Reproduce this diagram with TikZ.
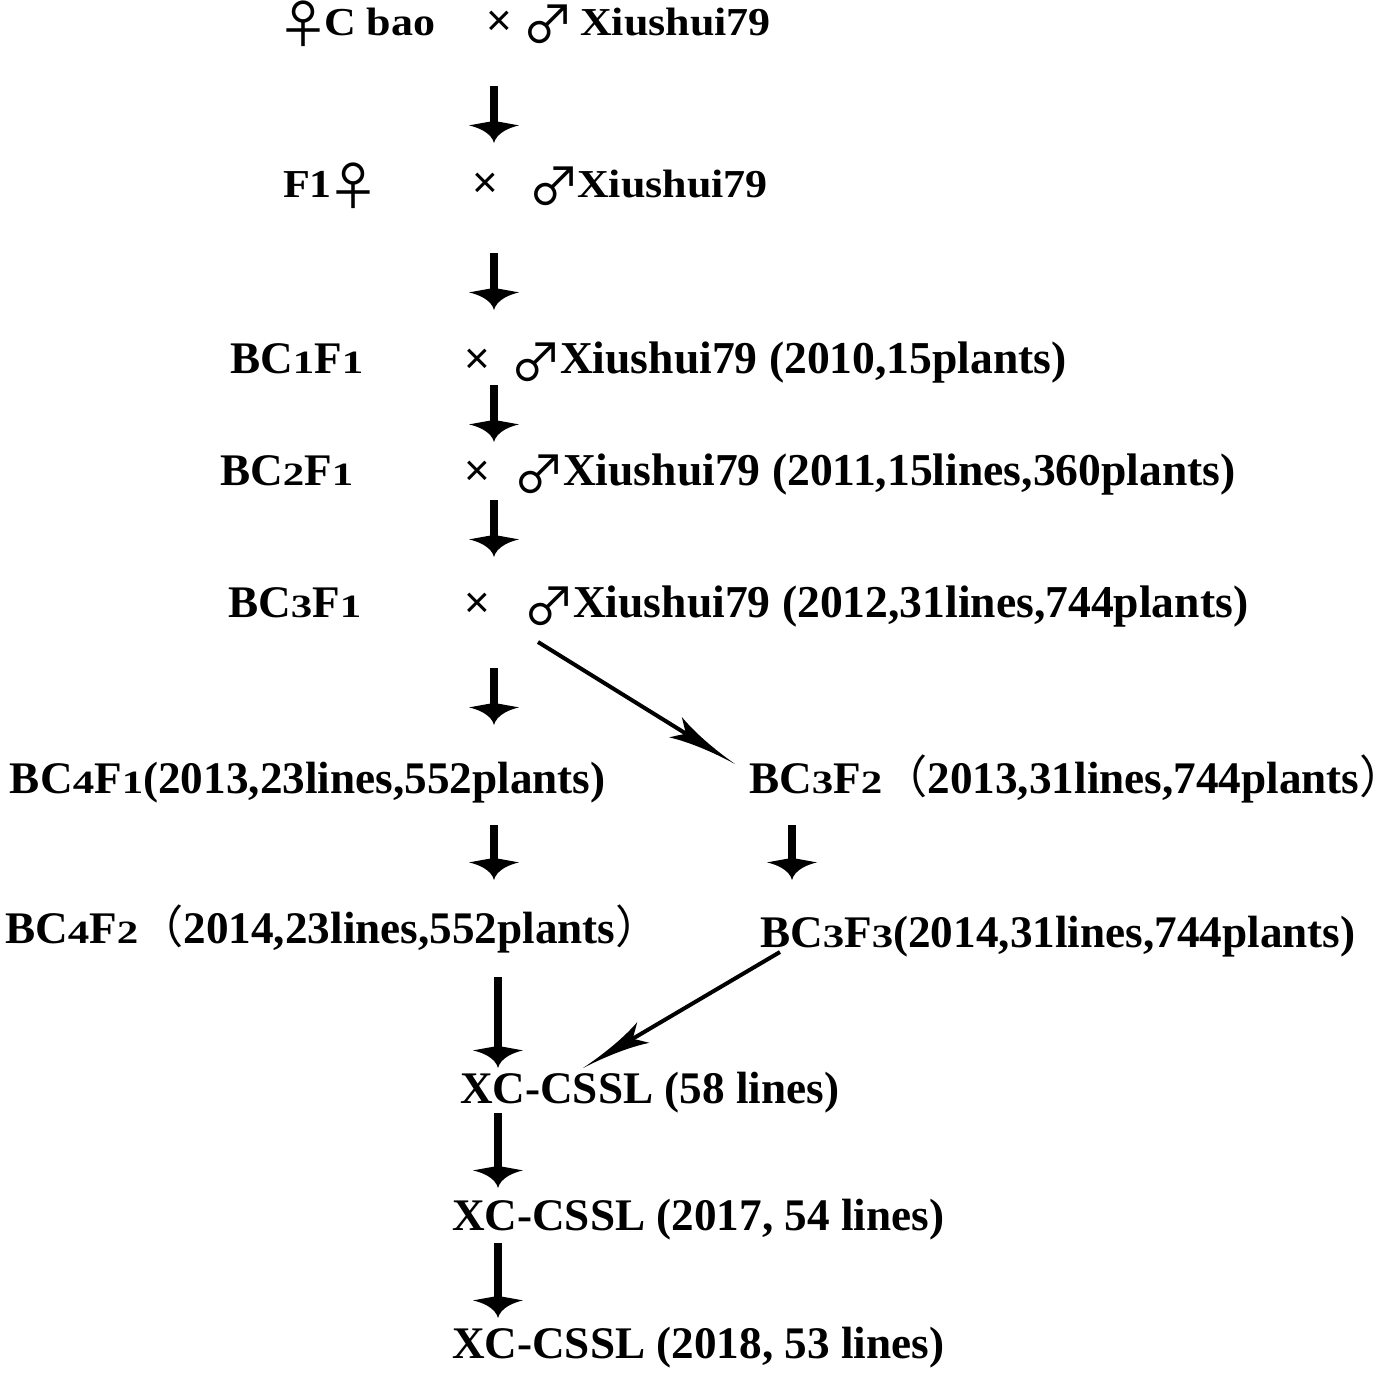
\documentclass[tikz,border=0pt]{standalone}
\usepackage{fontspec}
\setmainfont{Liberation Serif}
\newfontfamily\cjk{Noto Sans CJK SC}
\newfontfamily\sansx{Liberation Sans}
\usetikzlibrary{arrows.meta}

\pgfdeclarearrow{
  name = VDart,
  parameters = {\the\pgfarrowlength,\the\pgfarrowwidth},
  setup code = {
    \pgfarrowssettipend{0pt}
    \pgfarrowssetbackend{-\pgfarrowlength}
    \pgfarrowssetlineend{-0.85\pgfarrowlength}
    \pgfarrowssavethe\pgfarrowlength
    \pgfarrowssavethe\pgfarrowwidth
  },
  drawing code = {
    \pgfpathmoveto{\pgfqpoint{0pt}{0pt}}
    \pgfpathcurveto{\pgfqpoint{-0.45\pgfarrowlength}{0.05\pgfarrowwidth}}{\pgfqpoint{-0.7\pgfarrowlength}{0.3\pgfarrowwidth}}{\pgfqpoint{-0.8\pgfarrowlength}{0.5\pgfarrowwidth}}
    \pgfpathcurveto{\pgfqpoint{-0.88\pgfarrowlength}{0.3\pgfarrowwidth}}{\pgfqpoint{-0.96\pgfarrowlength}{0.12\pgfarrowwidth}}{\pgfqpoint{-\pgfarrowlength}{0pt}}
    \pgfpathcurveto{\pgfqpoint{-0.96\pgfarrowlength}{-0.12\pgfarrowwidth}}{\pgfqpoint{-0.88\pgfarrowlength}{-0.3\pgfarrowwidth}}{\pgfqpoint{-0.8\pgfarrowlength}{-0.5\pgfarrowwidth}}
    \pgfpathcurveto{\pgfqpoint{-0.7\pgfarrowlength}{-0.3\pgfarrowwidth}}{\pgfqpoint{-0.45\pgfarrowlength}{-0.05\pgfarrowwidth}}{\pgfqpoint{0pt}{0pt}}
    \pgfpathclose
    \pgfusepathqfill
  },
  defaults = {length = 11pt, width = 25pt}
}

\pgfdeclarearrow{
  name = DDart,
  parameters = {\the\pgfarrowlength,\the\pgfarrowwidth},
  setup code = {
    \pgfarrowssettipend{0pt}
    \pgfarrowssetbackend{-\pgfarrowlength}
    \pgfarrowssetlineend{-0.78\pgfarrowlength}
    \pgfarrowssavethe\pgfarrowlength
    \pgfarrowssavethe\pgfarrowwidth
  },
  drawing code = {
    \pgfpathmoveto{\pgfqpoint{0pt}{0pt}}
    \pgfpathcurveto{\pgfqpoint{-0.4\pgfarrowlength}{0.07\pgfarrowwidth}}{\pgfqpoint{-0.75\pgfarrowlength}{0.25\pgfarrowwidth}}{\pgfqpoint{-\pgfarrowlength}{0.5\pgfarrowwidth}}
    \pgfpathcurveto{\pgfqpoint{-0.93\pgfarrowlength}{0.3\pgfarrowwidth}}{\pgfqpoint{-0.87\pgfarrowlength}{0.12\pgfarrowwidth}}{\pgfqpoint{-0.82\pgfarrowlength}{0pt}}
    \pgfpathcurveto{\pgfqpoint{-0.87\pgfarrowlength}{-0.12\pgfarrowwidth}}{\pgfqpoint{-0.93\pgfarrowlength}{-0.3\pgfarrowwidth}}{\pgfqpoint{-\pgfarrowlength}{-0.5\pgfarrowwidth}}
    \pgfpathcurveto{\pgfqpoint{-0.75\pgfarrowlength}{-0.25\pgfarrowwidth}}{\pgfqpoint{-0.4\pgfarrowlength}{-0.07\pgfarrowwidth}}{\pgfqpoint{0pt}{0pt}}
    \pgfpathclose
    \pgfusepathqfill
  },
  defaults = {length = 35pt, width = 12pt}
}

\newcommand\sd[1]{\scalebox{0.95}[0.72]{#1}}
\newcommand\sq[1]{\scalebox{1}[0.9]{#1}}
\newcommand\gsym[1]{{\cjk\mdseries\fontsize{26pt}{26pt}\selectfont\kern-4pt\smash{\raisebox{-4pt}{#1}}\kern-4pt}}
\newcommand\fem{\gsym{♀}}
\newcommand\mal{\gsym{♂}}
\newcommand\crs{{\sansx\mdseries ×}}
\newcommand\lpar{{\cjk\mdseries （}}
\newcommand\rpar{{\cjk\mdseries ）\kern-10pt}}

\begin{document}
\begin{tikzpicture}[x=0.5pt,y=-0.5pt,
  every node/.style={inner sep=0pt, outer sep=0pt},
  txt/.style={anchor=base west, font=\fontsize{22.6pt}{26pt}\selectfont\bfseries},
  txtc/.style={anchor=base west, font=\fontsize{22.8pt}{26pt}\selectfont\bfseries},
  txtb/.style={anchor=base west, font=\fontsize{22pt}{26pt}\selectfont\bfseries},
  crossx/.style={anchor=base, font=\fontsize{22pt}{26pt}\selectfont},
  varrow/.style={line width=4pt, -{VDart[length=11pt,width=25pt]}},
  darrow/.style={line width=2pt, -{DDart[length=35pt,width=12pt]}}]
\useasboundingbox (0,0) rectangle (1382,1380);

% line 1
\node[txtb] (n1l) at (285,36) {\fem\kern1.5pt\sq{C bao}};
\node[crossx] (n1x) at (499,36) {\crs};
\node[txtb] (n1r) at (530,36) {\mal\hspace{7pt}\sq{Xiushui79}};
% line 2
\node[txtb] (n2l) at (283,198) {\sq{F1}\kern2pt\fem};
\node[crossx] (n2x) at (485,198) {\crs};
\node[txtb] (n2r) at (536,198) {\mal\kern2.5pt\sq{Xiushui79}};
% line 3
\node[txt] (n3l) at (230,373) {BC\sd{1}F\sd{1}};
\node[crossx] (n3x) at (477,373) {\crs};
\node[txtc] (n3r) at (518,373) {\mal\kern3pt Xiushui79 (2010,15plants)};
% line 4
\node[txt] (n4l) at (220,485) {BC\sd{2}F\sd{1}};
\node[crossx] (n4x) at (477,485) {\crs};
\node[txtc] (n4r) at (521,485) {\mal\kern3pt Xiushui79 (2011,15lines,360plants)};
% line 5
\node[txt] (n5l) at (228,617) {BC\sd{3}F\sd{1}};
\node[crossx] (n5x) at (477,617) {\crs};
\node[txtc] (n5r) at (531,617) {\mal\kern3pt Xiushui79 (2012,31lines,744plants)};
% line 6
\node[txt] (n6l) at (10,793) {BC\sd{4}F\sd{1}(2013,23lines,552plants)};
\node[txt] (n6r) at (749,793) {BC\sd{3}F\sd{2}\lpar 2013,31lines,744plants\rpar};
% line 7
\node[txt] (n7l) at (5,943) {BC\sd{4}F\sd{2}\lpar 2014,23lines,552plants\rpar};
\node[txt] (n7r) at (760,947) {BC\sd{3}F\sd{3}(2014,31lines,744plants)};
% lines 8-10
\node[txt] (n8) at (460,1103) {XC-CSSL (58 lines)};
\node[txt] (n9) at (452,1230) {XC-CSSL (2017, 54 lines)};
\node[txt] (n10) at (452,1358) {XC-CSSL (2018, 53 lines)};

% arrow end points
\coordinate (v1s) at (494,86);   \coordinate (v1e) at (494,143);
\coordinate (v2s) at (494,253);  \coordinate (v2e) at (494,310);
\coordinate (v3s) at (494,385);  \coordinate (v3e) at (494,442);
\coordinate (v4s) at (494,500);  \coordinate (v4e) at (494,557);
\coordinate (v5s) at (494,668);  \coordinate (v5e) at (494,725);
\coordinate (v6s) at (494,825);  \coordinate (v6e) at (494,880);
\coordinate (v7s) at (792,825);  \coordinate (v7e) at (792,880);
\coordinate (v8s) at (498,977);  \coordinate (v8e) at (498,1068);
\coordinate (v9s) at (498,1113); \coordinate (v9e) at (498,1188);
\coordinate (v10s) at (498,1243); \coordinate (v10e) at (498,1318);
\coordinate (d1s) at (538,642);  \coordinate (d1e) at (735,764);
\coordinate (d2s) at (780,952);  \coordinate (d2e) at (583,1068);

\draw[varrow] (v1s) -- (v1e);
\draw[varrow] (v2s) -- (v2e);
\draw[varrow] (v3s) -- (v3e);
\draw[varrow] (v4s) -- (v4e);
\draw[varrow] (v5s) -- (v5e);
\draw[varrow] (v6s) -- (v6e);
\draw[varrow] (v7s) -- (v7e);
\draw[varrow] (v8s) -- (v8e);
\draw[varrow] (v9s) -- (v9e);
\draw[varrow] (v10s) -- (v10e);
\draw[darrow] (d1s) -- (d1e);
\draw[darrow] (d2s) -- (d2e);
\end{tikzpicture}
\end{document}
